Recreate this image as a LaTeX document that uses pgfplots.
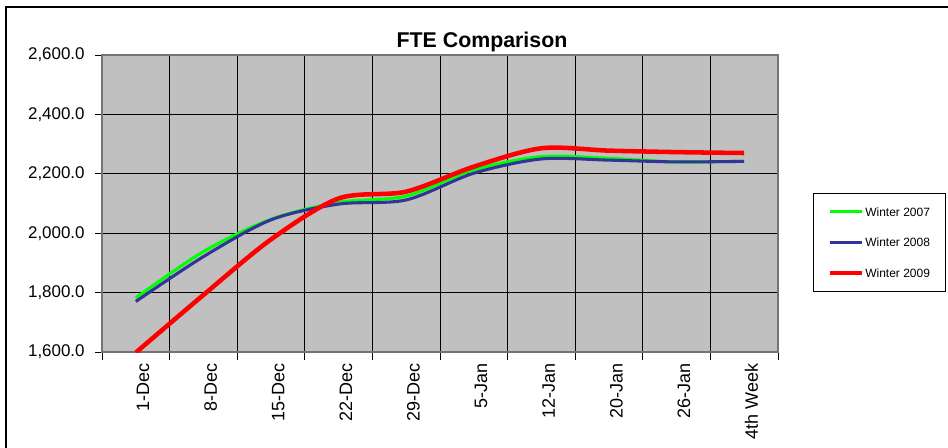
\documentclass[border=0pt]{standalone}
\usepackage{pgfplots}
\pgfplotsset{compat=1.18}
\usepackage{fontspec}
\setmainfont{Liberation Sans}
\definecolor{plotgray}{HTML}{C0C0C0}
\definecolor{wgreen}{HTML}{00FF00}
\definecolor{wblue}{HTML}{333399}
\definecolor{wred}{HTML}{FF0000}
\begin{document}
\begin{tikzpicture}
\useasboundingbox (0,0) rectangle (711pt,335.25pt);
\begin{scope}
\clip (0,0) rectangle (711pt,335.25pt);
\draw[line width=1.2pt, black] (4.5pt,330pt) rectangle (730pt,-20pt);
\end{scope}
\node[font=\fontsize{16}{19}\selectfont\bfseries] at (361.5pt,304pt) {FTE Comparison};
\begin{axis}[
  at={(76.5pt,71.25pt)}, anchor=south west,
  width=507pt, height=222.75pt, scale only axis,
  xmin=0, xmax=10, ymin=1600, ymax=2600,
  axis background/.style={fill=plotgray},
  axis line style={draw=gray!90!black, line width=0.8pt},
  xtick={0.5,1.5,...,9.5},
  xticklabels={1-Dec,8-Dec,15-Dec,22-Dec,29-Dec,5-Jan,12-Jan,20-Jan,26-Jan,4th Week},
  major x tick style={draw=none},
  minor xtick={0,1,...,10},
  minor x tick style={black, line width=0.6pt},
  minor tick length=6pt,
  xminorgrids=true,
  minor x grid style={black, line width=0.75pt},
  ytick={1600,1800,...,2600},
  ymajorgrids=true,
  major y grid style={black, line width=0.75pt},
  major y tick style={black, line width=0.6pt},
  major tick length=5pt,
  tick align=outside,
  xtick pos=bottom, ytick pos=left,
  xticklabel style={rotate=90, anchor=east, font=\fontsize{13.5}{16}\selectfont, yshift=-5.5pt},
  yticklabel style={font=\fontsize{12.7}{15}\selectfont, xshift=-4.5pt},
  /pgf/number format/assume math mode=true,
  yticklabel={\pgfmathprintnumber[fixed, fixed zerofill, precision=1, 1000 sep={,}]{\tick}},
  legend style={at={(1.0518,0.5354)}, anchor=north west, draw=black, line width=0.6pt,
    font=\fontsize{9}{11}\selectfont, row sep=15.5pt, inner xsep=11pt, inner ysep=10pt,
    nodes={inner sep=0.5pt, text depth=0pt}},
  legend cell align=left,
  legend image code/.code={\draw[#1] (0pt,0pt) -- (24pt,0pt);},
]
\addplot[wgreen, line width=2.3pt, smooth] coordinates {
(0.5,1782) (1.5,1938) (2.5,2047) (3.5,2104) (4.5,2125) (5.5,2213) (6.5,2258) (7.5,2252) (8.5,2240) (9.5,2242)};
\addlegendentry{Winter 2007}
\addplot[wblue, line width=2.3pt, smooth] coordinates {
(0.5,1770) (1.5,1921) (2.5,2045) (3.5,2098) (4.5,2112) (5.5,2202) (6.5,2250) (7.5,2246) (8.5,2240) (9.5,2242)};
\addlegendentry{Winter 2008}
\addplot[wred, line width=3.4pt, smooth] coordinates {
(0.5,1598) (1.5,1792) (2.5,1979) (3.5,2117) (4.5,2140) (5.5,2224) (6.5,2286) (7.5,2278) (8.5,2273) (9.5,2270)};
\addlegendentry{Winter 2009}
\end{axis}
\end{tikzpicture}
\end{document}
